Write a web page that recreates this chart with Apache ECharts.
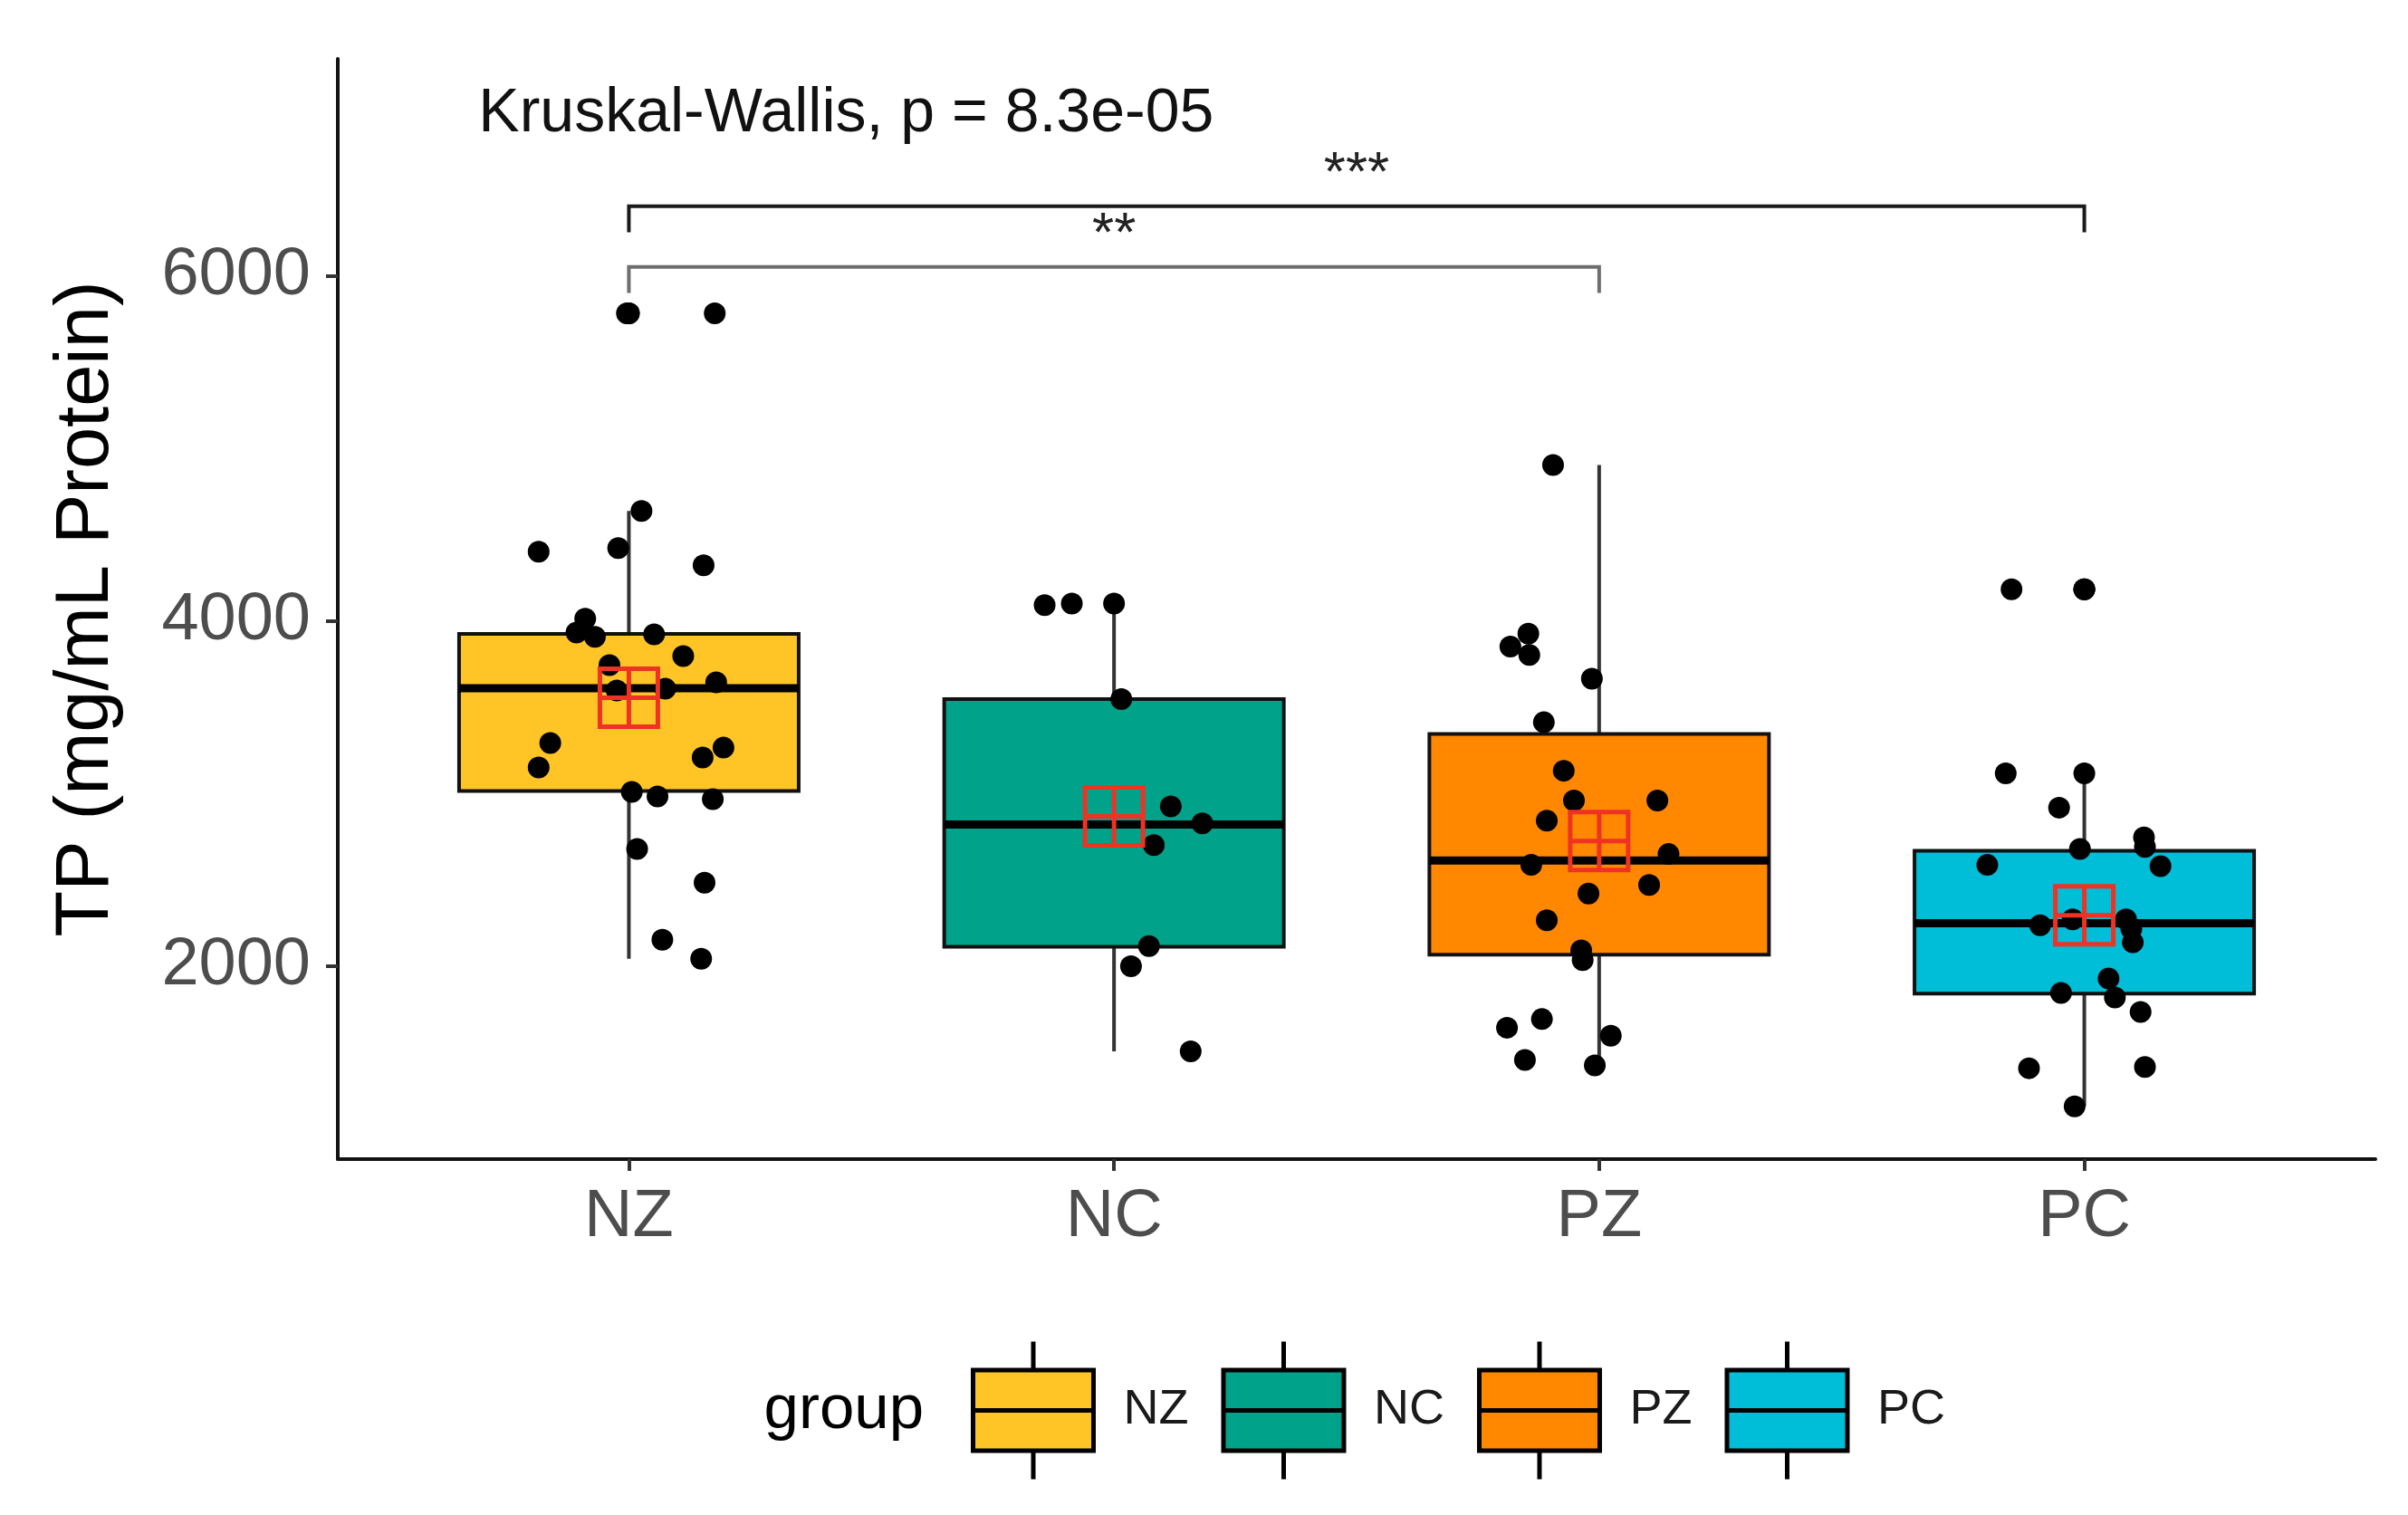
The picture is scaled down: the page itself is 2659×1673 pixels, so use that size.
<!DOCTYPE html>
<html>
<head>
<meta charset="utf-8">
<script src="https://cdn.jsdelivr.net/npm/echarts@6/dist/echarts.min.js"></script>
<style>
html,body{margin:0;padding:0;background:#fff;}
#chart{width:2659px;height:1673px;}
</style>
</head>
<body>
<div id="chart"></div>
<script>
// ---------- data ----------
const categories = ['NZ', 'NC', 'PZ', 'PC'];
const groupColors = ['#FFC527', '#00A389', '#FF8800', '#00BDD8'];

const boxMin    = [2042, 1505, 1423, 1186];
const boxQ1     = [3015, 2112, 2066, 1839];
const boxMedian = [3610, 2820, 2611, 2248];
const boxQ3     = [3925, 3547, 3345, 2668];
const boxMax    = [4638, 4100, 4905, 3100];
const groupMeans = [3555, 2867, 2725, 2294];

const nzValues = [5784, 5784, 4638, 4402, 4423, 4323, 4013, 3934, 3908, 3923, 3797, 3745, 3597, 3608, 3645, 3293, 3151, 3266, 3209, 3009, 2983, 2967, 2678, 2483, 2152, 2042];
const nzJitter = [-0.004, 0.177, 0.026, -0.186, -0.022, 0.154, -0.09, -0.108, -0.07, 0.052, 0.112, -0.04, -0.025, 0.075, 0.18, -0.162, -0.186, 0.195, 0.152, 0.006, 0.059, 0.173, 0.017, 0.156, 0.069, 0.149];

const ncValues = [4092, 4102, 3547, 2925, 2827, 2701, 2115, 1998, 1505];
const ncJitter = [-0.143, -0.087, 0.015, 0.117, 0.182, 0.082, 0.072, 0.035, 0.158];

const pzValues = [4905, 3852, 3927, 3803, 3666, 3413, 3132, 2959, 2959, 2842, 2649, 2587, 2420, 2470, 2265, 2091, 2034, 1692, 1642, 1455, 1595, 1423];
const pzJitter = [-0.095, -0.183, -0.146, -0.144, -0.015, -0.114, -0.073, -0.052, 0.12, -0.108, 0.143, -0.14, -0.022, 0.103, -0.108, -0.037, -0.034, -0.118, -0.19, -0.153, 0.024, -0.009];

const pcValues = [4184, 4184, 3117, 2918, 2746, 2690, 2679, 2586, 2579, 2236, 2270, 2270, 2215, 2137, 1927, 1843, 1817, 1733, 1407, 1414, 1186];
const pcJitter = [-0.15, 0.0, -0.162, -0.052, 0.123, 0.125, -0.009, -0.2, 0.157, -0.091, -0.024, 0.086, 0.097, 0.1, 0.05, -0.048, 0.063, 0.116, -0.114, 0.125, -0.02];

const yTicks = [2000, 4000, 6000];
const xTicks = [1, 2, 3, 4];

const bracketFrom  = [1, 1];
const bracketTo    = [3, 4];
const bracketY     = [6053, 6405];
const bracketTip   = [150, 150];
const bracketLabel = ['**', '***'];
const bracketColor = ['#6e6e6e', '#1a1a1a'];

const testText = 'Kruskal-Wallis, p = 8.3e-05';
const testPos = [0.69, 6940];

// ---------- build ----------
const allValues = [nzValues, ncValues, pzValues, pcValues];
const allJitter = [nzJitter, ncJitter, pzJitter, pcJitter];

const jitterData = [];
const outlierData = [];
allValues.forEach((vals, g) => {
  vals.forEach((v, i) => {
    jitterData.push([g + 1 + allJitter[g][i], v]);
    if (v > boxMax[g] || v < boxMin[g]) outlierData.push([g + 1, v]);
  });
});
const meanData = groupMeans.map((m, g) => [g + 1, m]);

const FONT = '"Liberation Sans", Arial, Helvetica, sans-serif';
const BOX_WIDTH = 0.7;

function renderBox(params, api) {
  const x = api.value(0);
  const top = api.coord([x, api.value(5)]);
  const pq3 = api.coord([x, api.value(4)]);
  const pmd = api.coord([x, api.value(3)]);
  const pq1 = api.coord([x, api.value(2)]);
  const bot = api.coord([x, api.value(1)]);
  const halfW = api.size([BOX_WIDTH, 0])[0] / 2;
  const color = api.visual('color');
  return {
    type: 'group',
    children: [
      { type: 'line', shape: { x1: top[0], y1: top[1], x2: pq3[0], y2: pq3[1] }, style: { stroke: '#333', lineWidth: 4 } },
      { type: 'line', shape: { x1: pq1[0], y1: pq1[1], x2: bot[0], y2: bot[1] }, style: { stroke: '#333', lineWidth: 4 } },
      { type: 'rect', shape: { x: pq3[0] - halfW, y: pq3[1], width: 2 * halfW, height: pq1[1] - pq3[1] }, style: { fill: color, stroke: '#111', lineWidth: 4 } },
      { type: 'line', shape: { x1: pmd[0] - halfW, y1: pmd[1], x2: pmd[0] + halfW, y2: pmd[1] }, style: { stroke: '#000', lineWidth: 9 } }
    ]
  };
}

function renderAnnot(params, api) {
  const children = [];
  bracketFrom.forEach((f, k) => {
    const t = bracketTo[k], y = bracketY[k], tip = bracketTip[k];
    const pts = [api.coord([f, y - tip]), api.coord([f, y]), api.coord([t, y]), api.coord([t, y - tip])];
    children.push({ type: 'polyline', shape: { points: pts }, style: { stroke: bracketColor[k], lineWidth: 4, fill: null } });
    const mid = api.coord([(f + t) / 2, y]);
    children.push({ type: 'text', x: mid[0], y: mid[1] - 4, style: { text: bracketLabel[k], font: '62px ' + FONT, fill: '#222', align: 'center', verticalAlign: 'bottom' } });
  });
  const tp = api.coord(testPos);
  children.push({ type: 'text', x: tp[0], y: tp[1], style: { text: testText, font: '68px ' + FONT, fill: '#111', align: 'left', verticalAlign: 'middle' } });
  return { type: 'group', children: children };
}

const legendIcon = 'path://M66.5,0 L66.5,31.5 M0,31.5 L133,31.5 L133,120.5 L0,120.5 Z M0,76 L133,76 M66.5,120.5 L66.5,152';

const boxSeries = categories.map((c, g) => ({
  name: c,
  type: 'custom',
  renderItem: renderBox,
  itemStyle: { color: groupColors[g] },
  data: [[g + 1, boxMin[g], boxQ1[g], boxMedian[g], boxQ3[g], boxMax[g]]],
  encode: { x: 0, y: [1, 2, 3, 4, 5] },
  z: 2,
  silent: true
}));

const chart = echarts.init(document.getElementById('chart'), null, { renderer: 'canvas' });
chart.setOption({
  animation: false,
  backgroundColor: '#fff',
  grid: { left: 373, right: 36, top: 65, bottom: 393, containLabel: false },
  xAxis: {
    type: 'value', min: 0.4, max: 4.6,
    axisLine: { show: true, onZero: false, lineStyle: { color: '#111', width: 4 } },
    axisTick: { show: true, customValues: xTicks, length: 13, lineStyle: { color: '#333', width: 4 } },
    axisLabel: { customValues: xTicks, formatter: v => categories[Math.round(v) - 1], fontSize: 74, color: '#4d4d4d', fontFamily: FONT, margin: 28 },
    splitLine: { show: false }
  },
  yAxis: {
    type: 'value', min: 880, max: 7260,
    name: 'TP (mg/mL Protein)', nameLocation: 'middle', nameGap: 235,
    nameTextStyle: { fontSize: 83, color: '#000', fontFamily: FONT },
    axisLine: { show: true, onZero: false, lineStyle: { color: '#111', width: 4 } },
    axisTick: { show: true, customValues: yTicks, length: 13, lineStyle: { color: '#333', width: 4 } },
    axisLabel: { customValues: yTicks, formatter: v => String(v), fontSize: 74, color: '#4d4d4d', fontFamily: FONT, margin: 30 },
    splitLine: { show: false }
  },
  legend: {
    data: categories.map(c => ({ name: c, icon: legendIcon })),
    left: 1072, top: 1479,
    itemWidth: 133, itemHeight: 152, itemGap: 36,
    selectedMode: false,
    padding: 0,
    itemStyle: { borderColor: '#000', borderWidth: 5 },
    textStyle: { fontSize: 54, color: '#1a1a1a', fontFamily: FONT, padding: [0, 0, 0, 28] }
  },
  graphic: [
    { type: 'text', x: 1020, y: 1558, style: { text: 'group', font: '69px ' + FONT, fill: '#000', align: 'right', verticalAlign: 'middle' } }
  ],
  series: boxSeries.concat([
    {
      name: 'outliers', type: 'scatter', data: outlierData, symbolSize: 24,
      itemStyle: { color: '#000', opacity: 1 }, z: 3, silent: true
    },
    {
      name: 'points', type: 'scatter', data: jitterData, symbolSize: 24,
      itemStyle: { color: '#000', opacity: 1 }, z: 4, silent: true
    },
    {
      name: 'mean', type: 'scatter', data: meanData, symbolSize: 64,
      symbol: 'path://M0,0 L10,0 L10,10 L0,10 Z M5,0 L5,10 M0,5 L10,5',
      itemStyle: { color: 'rgba(0,0,0,0)', borderColor: '#EE3224', borderWidth: 5, opacity: 1 }, z: 5, silent: true
    },
    {
      name: 'annot', type: 'custom', renderItem: renderAnnot, data: [[1, 6000]],
      encode: { x: 0, y: 1 }, z: 6, silent: true, clip: false
    }
  ])
});
</script>
</body>
</html>
